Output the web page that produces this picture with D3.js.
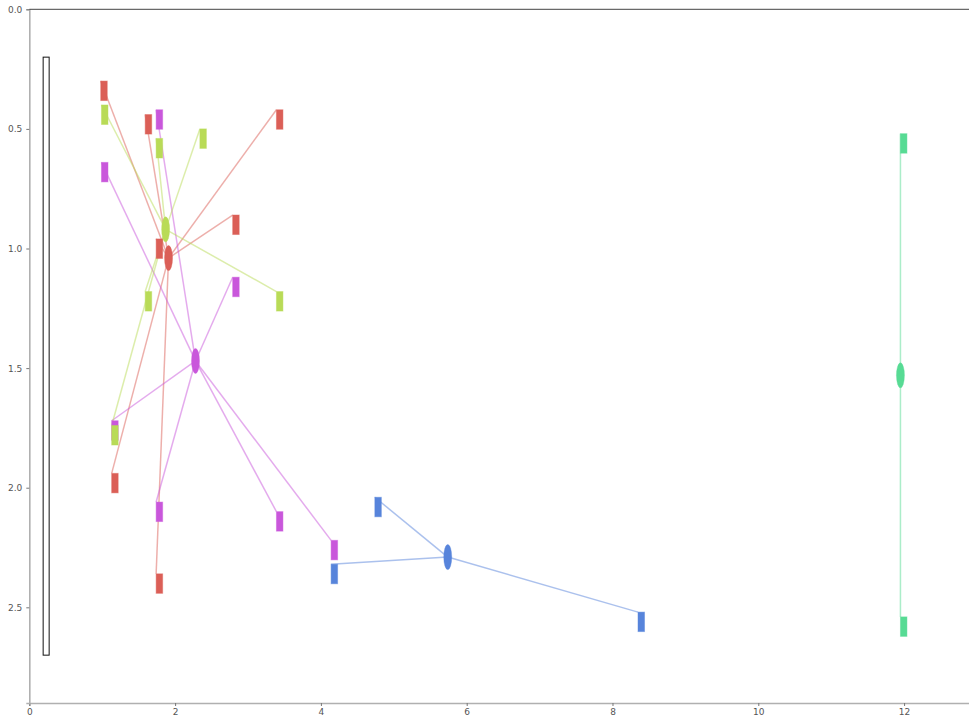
<!DOCTYPE html>
<html>
<head>
<meta charset="utf-8">
<script src="https://cdn.jsdelivr.net/npm/d3@7"></script>
<style>
  html, body { margin: 0; padding: 0; background: #fff; }
  svg { display: block; }
  .tick text { font-family: "DejaVu Sans", sans-serif; font-size: 9px; fill: #555; }
</style>
</head>
<body>
<svg id="chart" width="969" height="719"></svg>
<script>
// Cluster members (x, y) and their centroids
const redX = [0.98, 1.59, 3.39, 2.79, 1.74, 1.13, 1.74];
const redY = [0.30, 0.44, 0.42, 0.86, 0.96, 1.94, 2.36];
const redCentroid = [1.91, 1.04];

const purpleX = [1.74, 0.99, 2.79, 1.13, 1.74, 3.39, 4.14];
const purpleY = [0.42, 0.64, 1.12, 1.72, 2.06, 2.10, 2.22];
const purpleCentroid = [2.28, 1.47];

const blueX = [4.74, 4.14, 8.35];
const blueY = [2.04, 2.32, 2.52];
const blueCentroid = [5.74, 2.29];

const tealX = [11.95, 11.95];
const tealY = [0.52, 2.54];
const tealCentroid = [11.95, 1.53];

const limeX = [0.99, 1.74, 2.34, 3.39, 1.59, 1.13];
const limeY = [0.40, 0.54, 0.50, 1.18, 1.18, 1.74];
const limeCentroid = [1.87, 0.92];

// Vertical bracket on the left: x position and y span
const bracketX = 0.19;
const bracketY = [0.2, 2.7];

const xTicks = [0, 2, 4, 6, 8, 10, 12];
const yTicks = [0.0, 0.5, 1.0, 1.5, 2.0, 2.5];

// Drawing order: later clusters paint over earlier ones
const clusters = [
  { color: "#db5f57", xs: redX, ys: redY, c: redCentroid },
  { color: "#c957db", xs: purpleX, ys: purpleY, c: purpleCentroid },
  { color: "#5784db", xs: blueX, ys: blueY, c: blueCentroid },
  { color: "#57db94", xs: tealX, ys: tealY, c: tealCentroid },
  { color: "#b9db57", xs: limeX, ys: limeY, c: limeCentroid }
];

const svg = d3.select("#chart");
const x = d3.scaleLinear().domain([0, 12.9]).range([29.3, 969.7]);
const y = d3.scaleLinear().domain([0, 2.9]).range([9.3, 703]);

// Axes
const gx = svg.append("g").attr("transform", `translate(0,${y(2.9)})`)
  .call(d3.axisBottom(x).tickValues(xTicks).tickFormat(d3.format("d")).tickSize(3).tickPadding(3));
const gy = svg.append("g").attr("transform", `translate(${x(0)},0)`)
  .call(d3.axisLeft(y).tickValues(yTicks).tickFormat(d3.format(".1f")).tickSize(3).tickPadding(4));
[gx, gy].forEach(g => {
  g.select(".domain").attr("stroke", "#b0b0b0").attr("stroke-width", 1.6);
  g.selectAll(".tick line").attr("stroke", "#777");
});
// Top border line
svg.append("line")
  .attr("x1", x(0)).attr("x2", 969).attr("y1", y(0)).attr("y2", y(0))
  .attr("stroke", "#444").attr("stroke-width", 1);

// Bracket
svg.append("rect")
  .attr("x", x(bracketX)).attr("y", y(bracketY[0]))
  .attr("width", 6).attr("height", y(bracketY[1]) - y(bracketY[0]))
  .attr("fill", "#fff").attr("stroke", "#111").attr("stroke-width", 1);

const members = clusters.map(cl => cl.xs.map((v, i) => ({ x: v, y: cl.ys[i], color: cl.color, c: cl.c })));

// Links from centroid to each member
const gLinks = svg.append("g");
members.forEach(ms => {
  gLinks.selectAll(null).data(ms).enter().append("line")
    .attr("x1", d => x(d.c[0])).attr("y1", d => y(d.c[1]))
    .attr("x2", d => x(d.x)).attr("y2", d => y(d.y))
    .attr("stroke", d => d.color).attr("stroke-opacity", 0.5).attr("stroke-width", 1.5);
});

// Member markers
const gMembers = svg.append("g");
members.forEach(ms => {
  gMembers.selectAll(null).data(ms).enter().append("rect")
    .attr("x", d => x(d.x)).attr("y", d => y(d.y))
    .attr("width", 6.5).attr("height", 19.5)
    .attr("fill", d => d.color)
    .attr("stroke", d => d.color).attr("stroke-opacity", 0.45).attr("stroke-width", 1);
});

// Centroid markers
svg.append("g").selectAll("ellipse").data(clusters).enter().append("ellipse")
  .attr("cx", d => x(d.c[0])).attr("cy", d => y(d.c[1]))
  .attr("rx", 4).attr("ry", 12.5)
  .attr("fill", d => d.color)
  .attr("stroke", d => d.color).attr("stroke-opacity", 0.45).attr("stroke-width", 0.8);
</script>
</body>
</html>
